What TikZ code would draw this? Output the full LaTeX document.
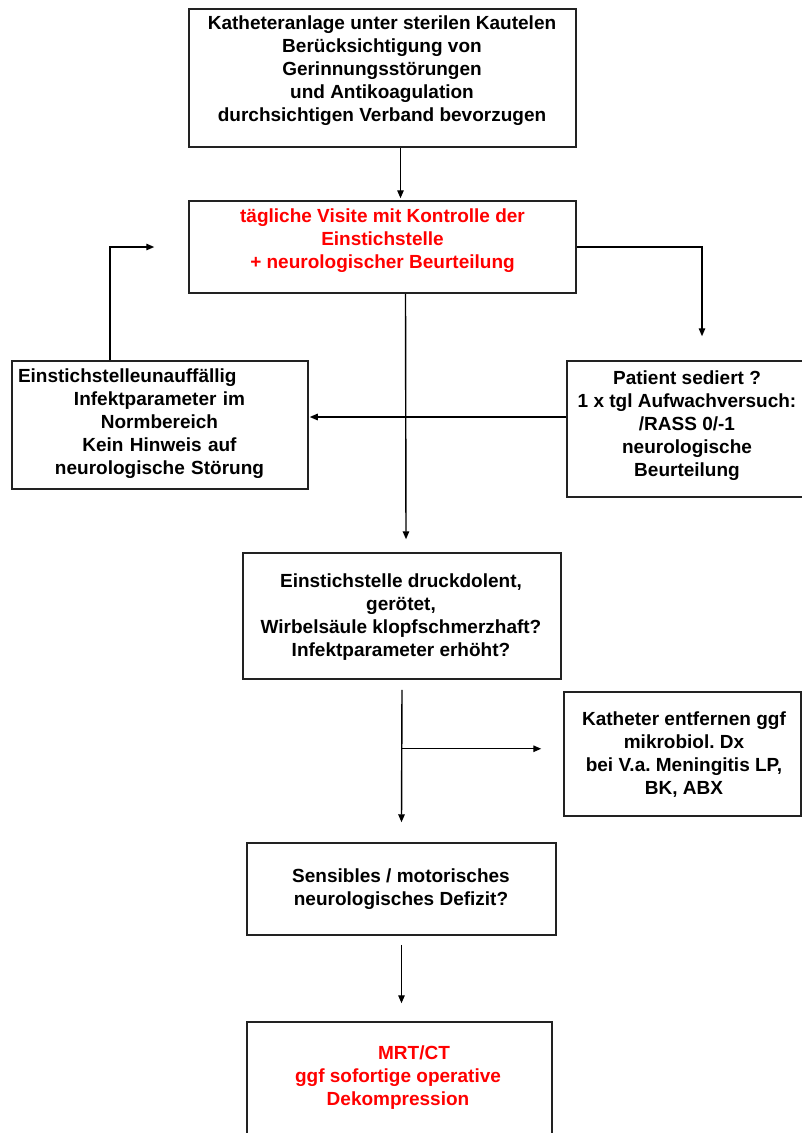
\documentclass[tikz,border=0pt]{standalone}
\usepackage{fontspec}
\setmainfont{Liberation Sans}
\usetikzlibrary{arrows.meta,calc}
\definecolor{boxline}{HTML}{222222}
\definecolor{redtext}{HTML}{FF0000}
\frenchspacing
\begin{document}
\begin{tikzpicture}[x=1pt,y=-1pt,
  box/.style={draw=boxline,line width=1.5pt,rectangle,inner sep=0pt},
  txt/.style={inner sep=0pt,align=center,font=\fontsize{19}{23}\selectfont\bfseries},
  redtxt/.style={txt,text=redtext},
  arr/.style={line width=1.4pt,draw=black,-{Triangle[length=8pt,width=6.5pt]}}
]
\useasboundingbox (0,0) rectangle (802,1133);

% boxes
\node[box,minimum width=387pt,minimum height=138pt] (b1) at (382.5,78) {};
\node[box,minimum width=387pt,minimum height=92pt] (b2) at (382.5,247) {};
\node[box,minimum width=296pt,minimum height=128pt] (bL) at (160,425) {};
\node[box,minimum width=240pt,minimum height=136pt] (bP) at (687,429) {};
\node[box,minimum width=318pt,minimum height=126pt] (b3) at (402,616) {};
\node[box,minimum width=237pt,minimum height=124pt] (bK) at (682.5,754) {};
\node[box,minimum width=309pt,minimum height=92pt] (b4) at (401.5,889) {};
\node[box,minimum width=305pt,minimum height=140pt] (b5) at (399.5,1092) {};

% texts
\node[txt] (t1) at (382,71) {Katheteranlage unter sterilen Kautelen\\Berücksichtigung von\\Gerinnungsstörungen\\und Antikoagulation\\durchsichtigen Verband bevorzugen};
\node[redtxt] (t2) at (382.5,240.5) {tägliche Visite mit Kontrolle der\\Einstichstelle\\+ neurologischer Beurteilung};
\node[txt,text width=283pt] (tL) at (159.5,423.5) {\makebox[\linewidth][l]{Einstichstelleunauffällig}\\Infektparameter im\\Normbereich\\Kein Hinweis auf\\neurologische Störung};
\node[txt] (tP) at (687,426) {Patient sediert ?\\1 x tgl Aufwachversuch:\\/RASS 0/-1\\neurologische\\Beurteilung};
\node[txt] (t3) at (401,617.5) {Einstichstelle druckdolent,\\gerötet,\\Wirbelsäule klopfschmerzhaft?\\Infektparameter erhöht?};
\node[txt] (tK) at (684,755) {Katheter entfernen ggf\\mikrobiol. Dx\\bei V.a. Meningitis LP,\\BK, ABX};
\node[txt] (t4) at (401,889.5) {Sensibles / motorisches\\neurologisches Defizit?};
\node[redtxt] (t5) at (398,1077.5) {\hspace*{32pt}MRT/CT\\ggf sofortige operative\\Dekompression};

% connectors
\draw[arr] ($(b1.south)+(18,0)$) -- ($(b2.north)+(18,-2)$);
\draw[arr] (b2.east) -| ($(bP.north)+(15,-24)$);
\draw[arr] ($(bL.north)+(-50,0)$) |- ($(b2.west)+(-34,0)$);
\draw[arr] ($(bP.west)+(0,-12)$) -- ($(bP.west -| bL.east)+(1,-12)$);
\draw[arr] ($(b2.south)+(23,0)$) -- ($(b3.north)+(4,-13)$);
\coordinate (br) at ($(b3.south)+(0,69)$);
\draw[arr] ($(b3.south)+(0,10)$) -- ($(b4.north)+(0,-20)$);
\draw[arr] (br) -- ($(br -| bK.west)+(-22,0)$);
\draw[arr] ($(b4.south)+(0,9)$) -- ($(b4.south |- b5.north)+(0,-18)$);
\end{tikzpicture}
\end{document}
